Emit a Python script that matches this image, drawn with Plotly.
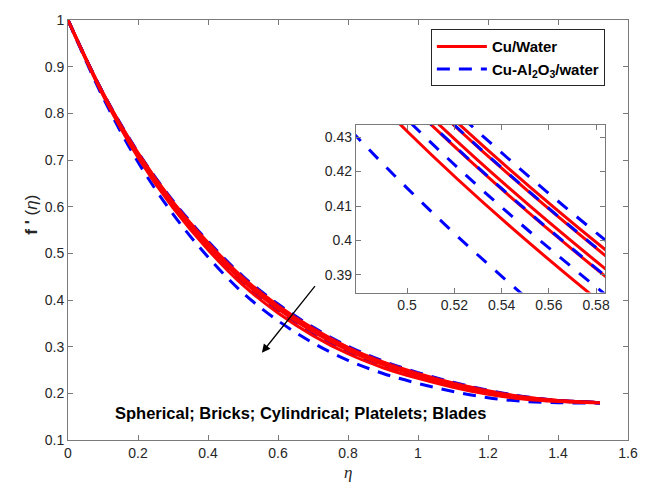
import plotly.graph_objects as go

# ---------------- data ----------------
eta = [0, 0.1, 0.2, 0.3, 0.4, 0.5, 0.6, 0.7, 0.8, 0.9, 1.0, 1.1, 1.2, 1.3, 1.4, 1.5, 1.52]

# Cu/Water (solid red) : Spherical, Bricks, Cylindrical, Platelets, Blades
cu_spherical   = [1.0, 0.8437, 0.7153, 0.6104, 0.5232, 0.4480, 0.3885, 0.3392, 0.2987, 0.2671, 0.2426, 0.2220, 0.2055, 0.1927, 0.1848, 0.1808, 0.180]
cu_bricks      = [1.0, 0.8431, 0.7143, 0.6090, 0.5216, 0.4463, 0.3868, 0.3376, 0.2972, 0.2659, 0.2415, 0.2211, 0.2047, 0.1921, 0.1846, 0.1807, 0.180]
cu_cylindrical = [1.0, 0.8420, 0.7120, 0.6060, 0.5180, 0.4425, 0.3830, 0.3340, 0.2940, 0.2630, 0.2390, 0.2190, 0.2030, 0.1910, 0.1840, 0.1805, 0.180]
cu_platelets   = [1.0, 0.8413, 0.7107, 0.6042, 0.5159, 0.4403, 0.3808, 0.3319, 0.2921, 0.2614, 0.2376, 0.2178, 0.2020, 0.1903, 0.1837, 0.1804, 0.180]
cu_blades      = [1.0, 0.8388, 0.7055, 0.5974, 0.5077, 0.4317, 0.3722, 0.3237, 0.2848, 0.2549, 0.2320, 0.2131, 0.1981, 0.1878, 0.1824, 0.1800, 0.180]

# Cu-Al2O3/water (dashed blue)
hy_spherical   = [1.0, 0.8445, 0.7170, 0.6126, 0.5259, 0.4508, 0.3913, 0.3419, 0.3011, 0.2692, 0.2444, 0.2236, 0.2067, 0.1935, 0.1852, 0.1809, 0.180]
hy_bricks      = [1.0, 0.8432, 0.7144, 0.6092, 0.5218, 0.4465, 0.3870, 0.3378, 0.2974, 0.2660, 0.2416, 0.2212, 0.2048, 0.1922, 0.1846, 0.1807, 0.180]
hy_cylindrical = [1.0, 0.8414, 0.7108, 0.6044, 0.5161, 0.4405, 0.3810, 0.3321, 0.2923, 0.2615, 0.2377, 0.2179, 0.2021, 0.1904, 0.1837, 0.1804, 0.180]
hy_platelets   = [1.0, 0.8398, 0.7076, 0.6001, 0.5110, 0.4351, 0.3756, 0.3270, 0.2877, 0.2575, 0.2342, 0.2149, 0.1997, 0.1888, 0.1829, 0.1801, 0.180]
hy_blades      = [1.0, 0.8338, 0.6956, 0.5842, 0.4921, 0.4152, 0.3557, 0.3081, 0.2708, 0.2425, 0.2213, 0.2040, 0.1907, 0.1828, 0.1799, 0.1791, 0.179]

x_ticks = [0, 0.2, 0.4, 0.6, 0.8, 1.0, 1.2, 1.4, 1.6]
y_ticks = [0.1, 0.2, 0.3, 0.4, 0.5, 0.6, 0.7, 0.8, 0.9, 1.0]
inset_x_ticks = [0.5, 0.52, 0.54, 0.56, 0.58]
inset_y_ticks = [0.39, 0.40, 0.41, 0.42, 0.43]

red_series = [cu_spherical, cu_bricks, cu_cylindrical, cu_platelets, cu_blades]
blue_series = [hy_spherical, hy_bricks, hy_cylindrical, hy_platelets, hy_blades]

RED = "#ff0000"
BLUE = "#0000ff"
FONT = "Liberation Sans, Arial, sans-serif"

fig = go.Figure()


def add_red(xa, ya, i, show):
    fig.add_trace(go.Scatter(
        x=eta, y=red_series[i], mode="lines", xaxis=xa, yaxis=ya,
        line=dict(color=RED, width=3, shape="spline"),
        name="Cu/Water", legendgroup="cu", legendrank=1,
        showlegend=show, hoverinfo="skip"))


def add_blue(xa, ya, i, show, dash):
    fig.add_trace(go.Scatter(
        x=eta, y=blue_series[i], mode="lines", xaxis=xa, yaxis=ya,
        line=dict(color=BLUE, width=3, dash=dash, shape="spline"),
        name="Cu-Al<sub>2</sub>O<sub>3</sub>/water", legendgroup="hy", legendrank=2,
        showlegend=show, hoverinfo="skip"))


# main plot: blue below, red on top
for i in range(5):
    add_blue("x", "y", i, i == 0, "13px,9px")
    add_red("x", "y", i, i == 0)
# inset: red below, blue dashes on top
for i in range(5):
    add_red("x2", "y2", i, False)
for i in range(5):
    add_blue("x2", "y2", i, False, "13px,12px")

axis_common = dict(
    showline=True, linecolor="#7a7a7a", linewidth=1, mirror="ticks",
    ticks="inside", ticklen=5, tickcolor="#7a7a7a", showgrid=False, zeroline=False,
    tickfont=dict(family=FONT, size=14, color="#262626"))

fig.update_layout(
    width=652, height=496,
    margin=dict(l=68, r=24, t=16, b=56),
    paper_bgcolor="white", plot_bgcolor="white",
    xaxis=dict(domain=[0, 1], range=[0, 1.6], tickvals=x_ticks, anchor="y", **axis_common),
    yaxis=dict(domain=[0, 1], range=[0.1, 1.0], tickvals=y_ticks, anchor="x", **axis_common),
    xaxis2=dict(domain=[0.514, 0.959], range=[0.4783, 0.5838], tickvals=inset_x_ticks,
                anchor="y2", **axis_common),
    yaxis2=dict(domain=[0.351, 0.75], range=[0.3849, 0.4335], tickvals=inset_y_ticks,
                anchor="x2", **axis_common),
    legend=dict(x=0.648, y=0.978, xanchor="left", yanchor="top",
                bgcolor="white", bordercolor="#262626", borderwidth=1,
                font=dict(family=FONT, size=15, color="black", weight="bold"),
                tracegroupgap=0, itemwidth=50, traceorder="normal"),
    showlegend=True,
)

fig.add_annotation(x=0.554, y=0.287, ax=0.709, ay=0.433, xref="x", yref="y",
                   axref="x", ayref="y", text="", showarrow=True,
                   arrowhead=2, arrowsize=1.3, arrowwidth=1.3, arrowcolor="black")
fig.add_annotation(x=0.663, y=0.157, xref="x", yref="y", showarrow=False,
                   text="<b>Spherical; Bricks; Cylindrical; Platelets; Blades</b>",
                   font=dict(family=FONT, size=16.5, color="black"))
fig.add_annotation(x=0.5, y=(440 - 484) / 424, xref="paper", yref="paper", showarrow=False,
                   text="<i>η</i>", font=dict(family="Liberation Serif, Times New Roman, serif",
                                               size=17, color="#262626"))
fig.add_annotation(x=(20 - 68) / 560, y=(440 - 213) / 424, xref="paper", yref="paper",
                   showarrow=False, textangle=-90,
                   text="<b>f '</b> (<i>η</i>)",
                   font=dict(family=FONT, size=17, color="#262626"))

fig.write_html("out.html", config={"displayModeBar": False},
               post_script="document.body.style.margin='0';document.body.style.padding='0';")
